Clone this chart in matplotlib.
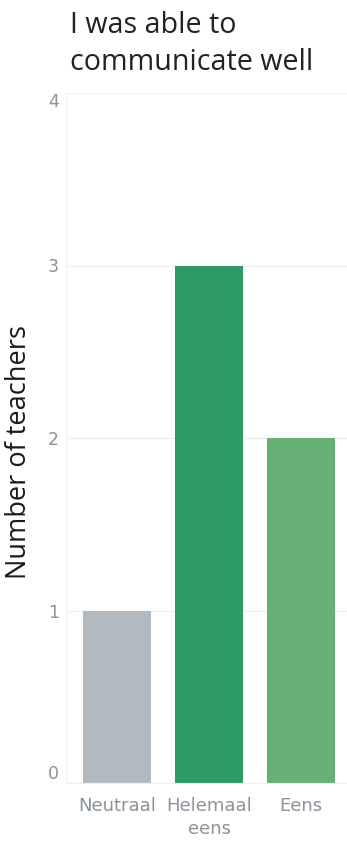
import matplotlib
matplotlib.use("Agg")
import matplotlib.pyplot as plt

categories = ["Neutraal", "Helemaal\neens", "Eens"]
teachers = [1, 3, 2]
bar_colors = ["#b1bac1", "#2f9a66", "#67b176"]
y_ticks = [0, 1, 2, 3, 4]
title_lines = ["I was able to", "communicate well"]

W, H = 347, 844
fig = plt.figure(figsize=(W / 100, H / 100), dpi=100)
ax = fig.add_axes([66 / W, 1 - 783 / H, 281 / W, 690 / H])

x = range(len(categories))
ax.bar(x, teachers, width=0.74, color=bar_colors, zorder=2)

ax.set_xlim(-0.56, 2.5)
ax.set_ylim(0, 4)
ax.set_yticks(y_ticks)
ax.set_xticks(list(x))
tick_color = "#8a939b"
ax.set_xticklabels(categories, fontsize=13, color=tick_color, family="DejaVu Sans", linespacing=1.35)
ax.set_yticklabels([str(t) for t in y_ticks], fontsize=12.5, color=tick_color, family="DejaVu Sans")
ax.tick_params(axis="both", length=0)
ax.tick_params(axis="y", pad=5)
ax.tick_params(axis="x", pad=10)

# tableau-style: top and bottom labels are pushed inside the axis range
ylabels = ax.get_yticklabels()
for lbl in ylabels:
    lbl.set_verticalalignment("center_baseline")
ylabels[0].set_verticalalignment("bottom")
ylabels[-1].set_verticalalignment("top")

ax.grid(axis="y", color="#eef0f2", linewidth=1, zorder=0)
for side in ["top", "right"]:
    ax.spines[side].set_visible(False)
ax.spines["left"].set_color("#f0f1f2")
ax.spines["bottom"].set_color("#f0f1f2")

ax.set_ylabel("Number of teachers", fontsize=19.5, color="#1a1a1a", family="Open Sans",
              va="center")
ax.yaxis.set_label_coords(-47 / 281, (783 - 452) / 690)

fig.text(70 / W, 1 - 33 / H, title_lines[0], fontsize=20.6, color="#222222",
         family="Open Sans", va="baseline", ha="left")
fig.text(70 / W, 1 - 70 / H, title_lines[1], fontsize=20.6, color="#222222",
         family="Open Sans", va="baseline", ha="left")

fig.savefig("out.png", dpi=100, facecolor="white")
